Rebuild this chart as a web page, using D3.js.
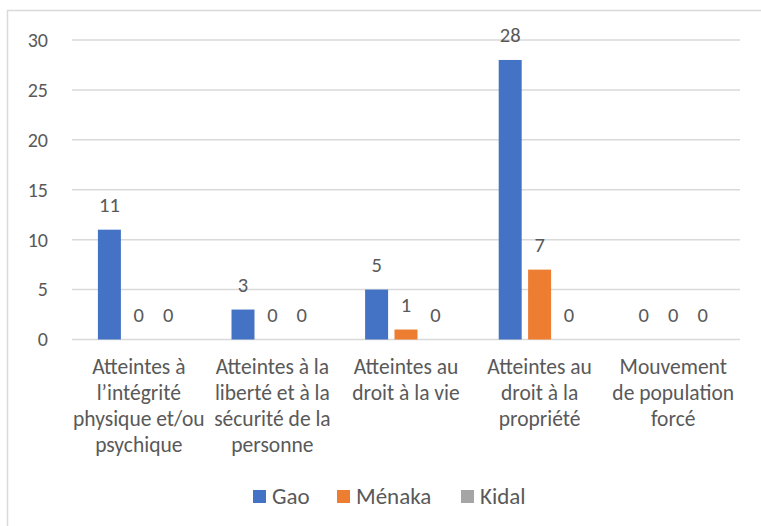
<!DOCTYPE html>
<html>
<head>
<meta charset="utf-8">
<script src="https://cdn.jsdelivr.net/npm/d3@7"></script>
<style>
  body { margin: 0; background: #fff; }
  svg text { font-family: Carlito, Calibri, Lato, sans-serif; fill: #595959; }
</style>
</head>
<body>
<svg id="chart" width="761" height="526"></svg>
<script>
var width = 761;
var height = 526;

// data
var categories = [
    ["Atteintes à", "l\u2019intégrité", "physique et/ou", "psychique"],
    ["Atteintes à la", "liberté et à la", "sécurité de la", "personne"],
    ["Atteintes au", "droit à la vie"],
    ["Atteintes au", "droit à la", "propriété"],
    ["Mouvement", "de population", "forcé"]
];
var seriesNames = ["Gao", "Ménaka", "Kidal"];
var gao = [11, 3, 5, 28, 0];
var menaka = [0, 0, 1, 7, 0];
var kidal = [0, 0, 0, 0, 0];
var yTicks = [0, 5, 10, 15, 20, 25, 30];
var colors = ["#4472C4", "#ED7D31", "#A5A5A5"];

var series = [gao, menaka, kidal];

var svg = d3.select("#chart");

// outer frame
svg.append("rect")
    .attr("x", 7.5).attr("y", 10.5)
    .attr("width", width).attr("height", height)
    .attr("fill", "none")
    .attr("stroke", "#D9D9D9")
    .attr("stroke-width", 1.5);

var x0 = d3.scaleBand()
    .domain(d3.range(categories.length))
    .range([72, 740]);

var x1 = d3.scaleBand()
    .domain(d3.range(seriesNames.length))
    .range([-44.1, 44.1])
    .paddingInner(0.218)
    .paddingOuter(0.109);

var y = d3.scaleLinear()
    .domain([0, 30])
    .range([339.5, 40]);

// gridlines
svg.append("g")
    .selectAll("line")
    .data(yTicks)
    .enter()
    .append("line")
    .attr("x1", 72).attr("x2", 740)
    .attr("y1", function(d){ return y(d); })
    .attr("y2", function(d){ return y(d); })
    .attr("stroke", "#D9D9D9")
    .attr("stroke-width", 1.5);

// y axis labels
var yAxis = d3.axisLeft(y).tickValues(yTicks).tickSize(0).tickPadding(0);
svg.append("g")
    .attr("transform", "translate(48,0)")
    .call(yAxis)
    .call(function(g){ g.select(".domain").remove(); })
    .selectAll("text")
    .attr("font-size", "20px")
    .attr("dy", "0.32em")
    .style("font-family", null);

// bars
var groups = svg.append("g")
    .selectAll("g")
    .data(categories)
    .enter()
    .append("g")
    .attr("transform", function(d, i){ return "translate(" + (x0(i) + x0.bandwidth() / 2) + ",0)"; });

groups.each(function(c, i){
    var g = d3.select(this);
    var vals = series.map(function(s, k){ return {k: k, v: s[i]}; });
    g.selectAll("rect")
        .data(vals)
        .enter()
        .append("rect")
        .attr("x", function(d){ return x1(d.k); })
        .attr("width", x1.bandwidth())
        .attr("y", function(d){ return y(d.v); })
        .attr("height", function(d){ return y(0) - y(d.v); })
        .attr("fill", function(d){ return colors[d.k]; });

    g.selectAll("text.lbl")
        .data(vals)
        .enter()
        .append("text")
        .attr("class", "lbl")
        .attr("x", function(d){ return x1(d.k) + x1.bandwidth() / 2; })
        .attr("y", function(d){ return y(d.v) - 18; })
        .attr("text-anchor", "middle")
        .attr("font-size", "20.5px")
        .text(function(d){ return d.v; });

    // category label
    var t = g.append("text")
        .attr("text-anchor", "middle")
        .attr("font-size", "21.5px");
    t.selectAll("tspan")
        .data(c)
        .enter()
        .append("tspan")
        .attr("x", 0)
        .attr("y", function(d, j){ return 374 + j * 26; })
        .text(function(d){ return d; });
});

// legend
var legendX = [253, 337, 461];
var legend = svg.append("g")
    .selectAll("g")
    .data(seriesNames)
    .enter()
    .append("g")
    .attr("transform", function(d, i){ return "translate(" + legendX[i] + ",490)"; });

legend.append("rect")
    .attr("width", 13).attr("height", 13)
    .attr("fill", function(d, i){ return colors[i]; });

legend.append("text")
    .attr("x", 19)
    .attr("y", 14)
    .attr("font-size", "23px")
    .text(function(d){ return d; });
</script>
</body>
</html>
